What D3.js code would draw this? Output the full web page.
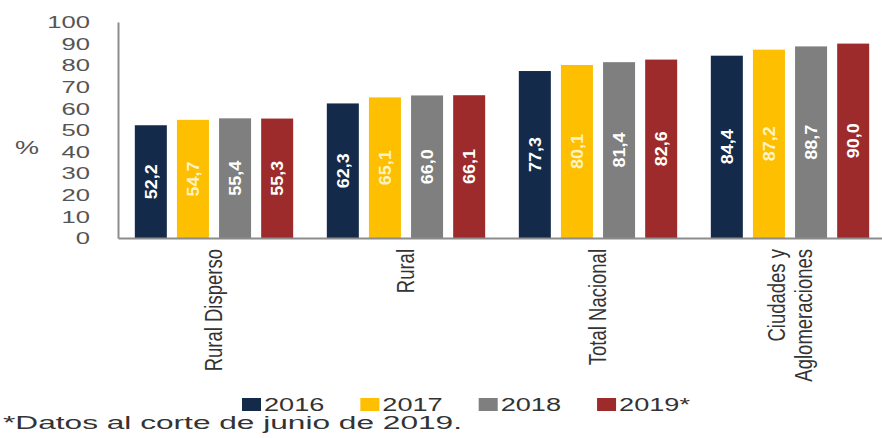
<!DOCTYPE html>
<html>
<head>
<meta charset="utf-8">
<script src="https://cdn.jsdelivr.net/npm/d3@7"></script>
<style>
  body { margin: 0; background: #fff; }
  svg { display: block; font-family: "Liberation Sans", Arial, sans-serif; }
</style>
</head>
<body>
<div id="chart"></div>
<script>
// datos
const categories = ["Rural Disperso", "Rural", "Total Nacional", "Ciudades y Aglomeraciones"];
const categoryLines = [["Rural Disperso"], ["Rural"], ["Total Nacional"], ["Ciudades y", "Aglomeraciones"]];
const years = ["2016", "2017", "2018", "2019*"];
const values2016 = [52.2, 62.3, 77.3, 84.4];
const values2017 = [54.7, 65.1, 80.1, 87.2];
const values2018 = [55.4, 66.0, 81.4, 88.7];
const values2019 = [55.3, 66.1, 82.6, 90.0];
const yTicks = [0, 10, 20, 30, 40, 50, 60, 70, 80, 90, 100];
const footnote = "*Datos al corte de junio de 2019.";

const series = [values2016, values2017, values2018, values2019];
const colors = ["#142a4b", "#fdbf00", "#7f7f7f", "#9e2b2b"];
const labelColors = ["#ffffff", "#fff3c4", "#ffffff", "#ffffff"];

const width = 882, height = 438;
const svg = d3.select("#chart").append("svg")
  .attr("width", width)
  .attr("height", height);

const y = d3.scaleLinear().domain([0, 100]).range([238, 22]);
const x0 = d3.scaleBand().domain(categories).range([118, 886])
  .paddingInner(0.07).paddingOuter(0.035);
const x1 = d3.scaleBand().domain(years).range([0, x0.bandwidth()]).padding(0.24);

// barras
const groups = svg.selectAll(".grupo")
  .data(categories)
  .enter().append("g")
  .attr("class", "grupo")
  .attr("transform", d => "translate(" + x0(d) + ",0)");

const rows = (c, i) => years.map((yr, k) => ({ yr: yr, k: k, v: series[k][i] }));

groups.selectAll("rect")
  .data(rows)
  .enter().append("rect")
  .attr("x", d => x1(d.yr))
  .attr("y", d => y(d.v))
  .attr("width", x1.bandwidth())
  .attr("height", d => y(0) - y(d.v))
  .attr("fill", d => colors[d.k]);

groups.selectAll("text.valor")
  .data(rows)
  .enter().append("text")
  .attr("class", "valor")
  .attr("transform", d => "translate(" + (x1(d.yr) + x1.bandwidth() / 2) + "," + ((y(d.v) + y(0)) / 2) + ") scale(0.9,1) rotate(-90)")
  .attr("text-anchor", "middle")
  .attr("dy", "0.36em")
  .style("font-size", "18px")
  .style("font-weight", "bold")
  .style("fill", d => labelColors[d.k])
  .text(d => d3.format(".1f")(d.v).replace(".", ","));

// eje y
const yAxis = svg.append("g")
  .attr("transform", "translate(118,0)")
  .call(d3.axisLeft(y).tickValues(yTicks).tickSize(0).tickSizeOuter(0).tickPadding(0));
yAxis.select(".domain").attr("stroke", "#8c8c8c").attr("stroke-width", 2);
yAxis.selectAll("text")
  .attr("x", -28 / 1.6)
  .attr("transform", "scale(1.6,1)")
  .attr("dy", "0.36em")
  .style("font-size", "16px")
  .style("fill", "#555");

// eje x (línea base)
const xAxis = svg.append("g")
  .attr("transform", "translate(0," + y(0) + ")")
  .call(d3.axisBottom(x0).tickSize(0).tickSizeOuter(0).tickFormat(""));
xAxis.select(".domain").attr("stroke", "#8c8c8c").attr("stroke-width", 2);

svg.append("text")
  .attr("transform", "translate(15,148) scale(1.5,1)")
  .attr("dy", "0.36em")
  .style("font-size", "18px")
  .style("fill", "#555")
  .text("%");

// etiquetas de categorías
categories.forEach((c, i) => {
  const lines = categoryLines[i];
  const cx = x0(c) + x0.bandwidth() / 2;
  const gap = 27;
  lines.forEach((ln, j) => {
    const lx = cx + (j - (lines.length - 1) / 2) * gap;
    svg.append("text")
      .attr("transform", "translate(" + lx + ",249) scale(1.25,1) rotate(-90)")
      .attr("text-anchor", "end")
      .attr("dy", "0.36em")
      .style("font-size", "18.5px")
      .style("fill", "#333")
      .text(ln);
  });
});

// leyenda
const legend = svg.append("g").attr("transform", "translate(242,411)");
let lx = 0;
years.forEach((yr, k) => {
  legend.append("rect")
    .attr("x", lx).attr("y", -13)
    .attr("width", 19).attr("height", 13)
    .attr("fill", colors[k]);
  const t = legend.append("text")
    .attr("x", lx + 22)
    .style("font-size", "17.5px")
    .style("fill", "#333")
    .text(yr);
  const w = t.node().getComputedTextLength() * 1.55;
  t.attr("textLength", w).attr("lengthAdjust", "spacingAndGlyphs");
  lx += 22 + w + 36;
});

// nota al pie
const foot = svg.append("text")
  .attr("x", 3)
  .attr("y", 429)
  .style("font-size", "17.5px")
  .style("fill", "#333")
  .text(footnote);
foot.attr("textLength", 459).attr("lengthAdjust", "spacingAndGlyphs");
</script>
</body>
</html>
